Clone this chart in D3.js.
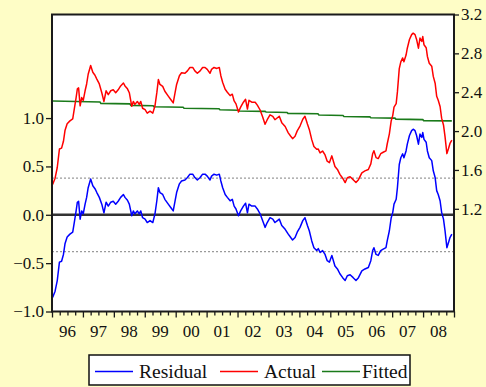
<!DOCTYPE html>
<html>
<head>
<meta charset="utf-8">
<script src="https://cdn.jsdelivr.net/npm/d3@7"></script>
<style>
  html, body { margin: 0; padding: 0; background: #FEFDC6; }
  svg { display: block; }
  text { font-family: "Liberation Serif", "Times New Roman", serif; fill: #111; }
</style>
</head>
<body>
<svg id="chart" width="486" height="387"></svg>
<script>
// Observation dates (decimal years), shared by the residual and actual series
const dates = [
  1996.02,1996.10,1996.17,1996.24,1996.31,1996.37,1996.42,1996.49,1996.58,1996.67,
  1996.72,1996.78,1996.82,1996.86,1996.91,1996.96,1997.01,1997.07,1997.12,1997.17,
  1997.25,1997.32,1997.39,1997.45,1997.53,1997.61,1997.68,1997.75,1997.82,1997.90,
  1997.98,1998.06,1998.14,1998.22,1998.31,1998.36,1998.44,1998.50,1998.58,1998.63,
  1998.68,1998.76,1998.82,1998.87,1998.93,1999.01,1999.08,1999.17,1999.26,1999.33,
  1999.39,1999.44,1999.49,1999.58,1999.65,1999.76,1999.84,1999.92,1999.98,2000.03,
  2000.12,2000.19,2000.30,2000.38,2000.46,2000.55,2000.62,2000.70,2000.79,2000.87,
  2000.95,2001.02,2001.11,2001.16,2001.24,2001.33,2001.41,2001.46,2001.52,2001.60,
  2001.67,2001.76,2001.83,2001.89,2001.95,2002.03,2002.10,2002.19,2002.26,2002.32,
  2002.37,2002.46,2002.57,2002.64,2002.73,2002.81,2002.89,2002.96,2003.05,2003.14,
  2003.21,2003.29,2003.35,2003.43,2003.54,2003.64,2003.72,2003.78,2003.86,2003.93,
  2004.02,2004.11,2004.18,2004.26,2004.32,2004.40,2004.47,2004.56,2004.61,2004.67,
  2004.75,2004.83,2004.90,2004.97,2005.05,2005.10,2005.15,2005.23,2005.31,2005.40,
  2005.48,2005.55,2005.64,2005.74,2005.83,2005.91,2006.02,2006.12,2006.23,2006.31,
  2006.37,2006.41,2006.48,2006.55,2006.63,2006.71,2006.80,2006.84,2006.91,2006.97,
  2007.02,2007.06,2007.13,2007.17,2007.23,2007.28,2007.34,2007.38,2007.45,2007.49,
  2007.56,2007.63,2007.68,2007.74,2007.79,2007.85,2007.90,2007.96,2007.99,2008.03,
  2008.10,2008.14,2008.20,2008.28,2008.33,2008.39,2008.44,2008.49,2008.55,2008.60,
  2008.66,2008.71,2008.77,2008.82,2008.87,2008.93
];

// Residual (left axis)
const residual = [
  -0.855,-0.79,-0.68,-0.49,-0.48,-0.41,-0.30,-0.23,-0.20,-0.18,
  -0.08,0.04,0.13,0.14,-0.045,0.04,0.01,0.11,0.18,0.28,
  0.37,0.30,0.27,0.23,0.18,0.11,0.02,0.13,0.09,0.13,
  0.14,0.11,0.14,0.18,0.21,0.18,0.15,0.11,-0.01,0.04,
  0.01,0.04,0.01,0.04,-0.03,-0.045,-0.08,-0.06,-0.08,0.01,
  0.145,0.28,0.23,0.21,0.16,0.11,0.075,0.04,0.145,0.23,
  0.32,0.35,0.36,0.385,0.42,0.42,0.385,0.36,0.385,0.42,
  0.42,0.40,0.36,0.40,0.42,0.41,0.42,0.35,0.28,0.21,
  0.18,0.145,0.16,0.09,0.06,-0.01,0.04,0.09,0.12,0.02,
  0.11,0.09,0.09,0.06,0.01,-0.06,-0.13,-0.08,-0.03,-0.045,
  -0.08,-0.06,-0.045,-0.11,-0.15,-0.20,-0.235,-0.26,-0.235,-0.18,
  -0.13,-0.06,-0.03,-0.11,-0.165,-0.27,-0.34,-0.37,-0.35,-0.39,
  -0.37,-0.41,-0.475,-0.49,-0.42,-0.475,-0.53,-0.56,-0.61,-0.65,
  -0.68,-0.63,-0.62,-0.65,-0.68,-0.65,-0.58,-0.56,-0.545,-0.475,
  -0.37,-0.34,-0.41,-0.42,-0.37,-0.355,-0.34,-0.27,-0.165,-0.03,
  0.025,0.11,0.16,0.28,0.52,0.59,0.63,0.59,0.66,0.73,
  0.82,0.87,0.885,0.87,0.82,0.73,0.835,0.80,0.85,0.78,
  0.75,0.66,0.59,0.56,0.455,0.385,0.25,0.21,0.145,0.025,
  -0.045,-0.165,-0.34,-0.29,-0.235,-0.20
];

// Actual (right axis)
const actual = [
  1.45,1.515,1.625,1.815,1.825,1.895,2.005,2.075,2.105,2.125,
  2.225,2.345,2.435,2.445,2.26,2.345,2.315,2.415,2.485,2.585,
  2.675,2.605,2.575,2.535,2.485,2.395,2.305,2.415,2.375,2.415,
  2.425,2.395,2.425,2.465,2.495,2.465,2.435,2.395,2.255,2.305,
  2.275,2.305,2.275,2.305,2.235,2.22,2.185,2.205,2.185,2.26,
  2.395,2.53,2.48,2.46,2.41,2.36,2.325,2.29,2.395,2.48,
  2.57,2.60,2.595,2.62,2.655,2.655,2.62,2.595,2.62,2.655,
  2.655,2.635,2.595,2.635,2.655,2.645,2.655,2.57,2.50,2.43,
  2.40,2.365,2.38,2.31,2.28,2.197,2.247,2.297,2.327,2.227,
  2.317,2.297,2.297,2.267,2.217,2.147,2.07,2.117,2.167,2.152,
  2.117,2.137,2.152,2.087,2.047,1.982,1.947,1.922,1.947,2.002,
  2.052,2.122,2.152,2.072,2.017,1.912,1.842,1.812,1.815,1.775,
  1.795,1.755,1.69,1.675,1.745,1.69,1.635,1.605,1.555,1.515,
  1.47,1.52,1.53,1.50,1.47,1.50,1.57,1.59,1.605,1.662,
  1.767,1.797,1.727,1.717,1.767,1.782,1.797,1.867,1.972,2.107,
  2.162,2.247,2.283,2.403,2.643,2.713,2.753,2.713,2.783,2.853,
  2.943,2.993,3.008,2.993,2.943,2.853,2.958,2.923,2.973,2.888,
  2.858,2.768,2.698,2.668,2.563,2.493,2.358,2.318,2.253,2.133,
  2.063,1.943,1.768,1.818,1.873,1.908
];

// Fitted (right axis), own dates
const fittedDates = [
  1996.02,1997.55,1997.58,1998.52,1998.55,1999.27,1999.30,2000.24,2000.27,2001.40,
  2001.43,2002.02,2002.05,2002.89,2002.92,2003.60,2003.63,2004.60,2004.63,2005.41,
  2005.44,2006.28,2006.31,2007.09,2007.12,2007.99,2008.02,2008.93
];
const fitted = [
  2.31,2.30,2.285,2.28,2.265,2.26,2.25,2.245,2.235,2.23,
  2.22,2.215,2.207,2.203,2.197,2.192,2.182,2.178,2.165,2.16,
  2.15,2.146,2.137,2.133,2.123,2.118,2.108,2.105
];

// Axis ticks and labels
const residualTicks = [-1.0, -0.5, 0.0, 0.5, 1.0];
const actualTicks = [1.2, 1.6, 2.0, 2.4, 2.8, 3.2];
const yearLabels = ["96","97","98","99","00","01","02","03","04","05","06","07","08"];
const residualBand = 0.38;   // +/- one standard error band

const legendItems = [
  { name: "Residual", color: "#0000FF" },
  { name: "Actual",   color: "#FF0000" },
  { name: "Fitted",   color: "#1A7A1A" }
];

const svg = d3.select("#chart");
const plot = { left: 52, right: 454, top: 14.5, bottom: 311.5 };

const x = d3.scaleLinear().domain([1996, 2009]).range([plot.left, plot.right]);
const yRes = d3.scaleLinear().domain([-1.0, 2.071]).range([plot.bottom, plot.top]);
const yAct = d3.scaleLinear().domain([0.143, 3.2]).range([plot.bottom, plot.top]);

svg.append("rect").attr("width", 486).attr("height", 387).attr("fill", "#FEFDC6");

// plotting area
svg.append("rect")
  .attr("x", plot.left).attr("y", plot.top)
  .attr("width", plot.right - plot.left).attr("height", plot.bottom - plot.top)
  .attr("fill", "#FFFFFF");

svg.append("clipPath").attr("id", "clip")
  .append("rect")
  .attr("x", plot.left).attr("y", plot.top)
  .attr("width", plot.right - plot.left).attr("height", plot.bottom - plot.top);

const g = svg.append("g").attr("clip-path", "url(#clip)");

// +/- band lines
g.selectAll("line.band").data([residualBand, -residualBand]).join("line")
  .attr("class", "band")
  .attr("x1", plot.left).attr("x2", plot.right)
  .attr("y1", d => yRes(d)).attr("y2", d => yRes(d))
  .attr("stroke", "#9A9A9A").attr("stroke-width", 1.2)
  .attr("stroke-dasharray", "2,2");

// zero line
g.append("line")
  .attr("x1", plot.left).attr("x2", plot.right)
  .attr("y1", yRes(0)).attr("y2", yRes(0))
  .attr("stroke", "#333333").attr("stroke-width", 2.5);

const idx = d3.range(dates.length);

const lineRes = d3.line().x(i => x(dates[i])).y(i => yRes(residual[i]));
const lineAct = d3.line().x(i => x(dates[i])).y(i => yAct(actual[i]));
const lineFit = d3.line().x(i => x(fittedDates[i])).y(i => yAct(fitted[i]));

g.append("path").attr("d", lineFit(d3.range(fittedDates.length)))
  .attr("fill", "none").attr("stroke", legendItems[2].color).attr("stroke-width", 1.6);
g.append("path").attr("d", lineAct(idx))
  .attr("fill", "none").attr("stroke", legendItems[1].color).attr("stroke-width", 1.5)
  .attr("stroke-linejoin", "round");
g.append("path").attr("d", lineRes(idx))
  .attr("fill", "none").attr("stroke", legendItems[0].color).attr("stroke-width", 1.5)
  .attr("stroke-linejoin", "round");

// frame
svg.append("rect")
  .attr("x", plot.left).attr("y", plot.top)
  .attr("width", plot.right - plot.left).attr("height", plot.bottom - plot.top)
  .attr("fill", "none").attr("stroke", "#1A1A1A").attr("stroke-width", 2);

const fmt = d3.format(".1f");

// left axis (residual)
const axL = svg.append("g").attr("transform", `translate(${plot.left},0)`)
  .call(d3.axisLeft(yRes).tickValues(residualTicks).tickFormat(fmt).tickSize(6).tickPadding(2));
// right axis (actual / fitted)
const axR = svg.append("g").attr("transform", `translate(${plot.right},0)`)
  .call(d3.axisRight(yAct).tickValues(actualTicks).tickFormat(fmt).tickSize(5).tickPadding(2));
// bottom axis: quarterly ticks
const quarters = d3.range(1996, 2009.001, 0.25);
const axB = svg.append("g").attr("transform", `translate(0,${plot.bottom})`)
  .call(d3.axisBottom(x).tickValues(quarters).tickFormat("").tickSize(5));
axB.selectAll(".tick line").attr("y2", d => Math.abs(d - Math.round(d)) < 1e-6 ? 6 : 4);

[axL, axR, axB].forEach(a => {
  a.select(".domain").remove();
  a.selectAll(".tick line").attr("stroke", "#1A1A1A").attr("stroke-width", 1.3);
  a.selectAll("text").attr("font-family", "Liberation Serif, serif")
    .attr("font-size", 17).attr("fill", "#111");
});

// year labels centred in each year
svg.append("g").selectAll("text").data(yearLabels).join("text")
  .attr("x", (d, i) => x(1996 + i + 0.5))
  .attr("y", 337)
  .attr("text-anchor", "middle")
  .attr("font-size", 17)
  .text(d => d);

// legend
const lg = svg.append("g");
lg.append("rect").attr("x", 89).attr("y", 355).attr("width", 321).attr("height", 30)
  .attr("fill", "#FFFFFF").attr("stroke", "#111").attr("stroke-width", 1.5);
const legendLineX = [95, 220, 322];
const legendTextX = [139, 264, 362];
legendItems.forEach((d, i) => {
  lg.append("line")
    .attr("x1", legendLineX[i]).attr("x2", legendLineX[i] + 38)
    .attr("y1", 371.5).attr("y2", 371.5)
    .attr("stroke", d.color).attr("stroke-width", 1.6);
  lg.append("text")
    .attr("x", legendTextX[i]).attr("y", 377.5)
    .attr("font-size", 19.5)
    .text(d.name);
});
</script>
</body>
</html>
